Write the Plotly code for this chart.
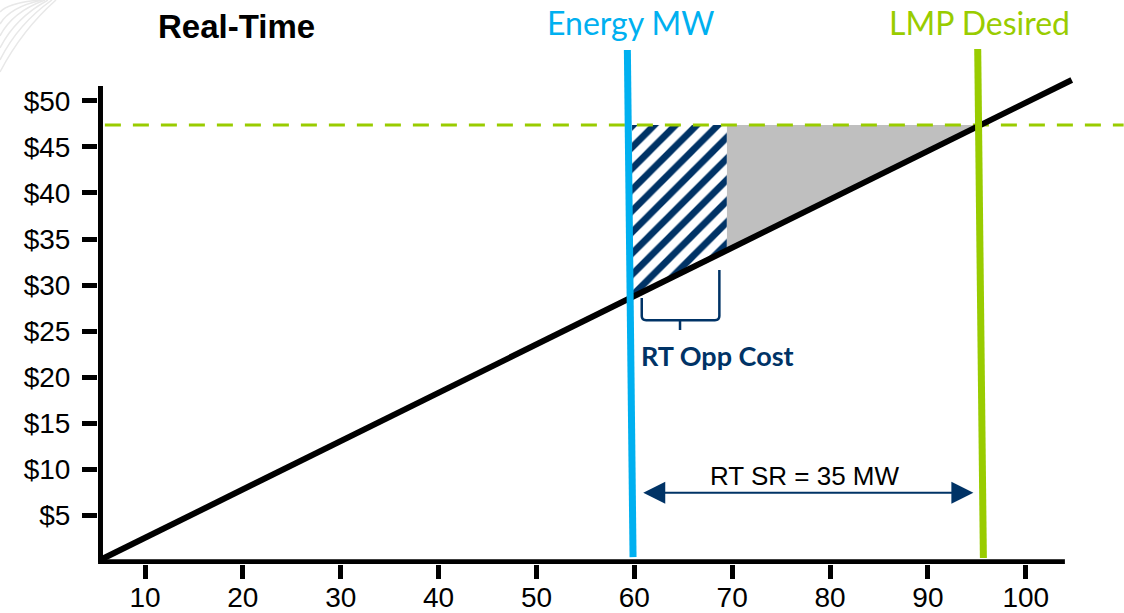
import plotly.graph_objects as go

# ---- data -------------------------------------------------------------
supply_mw = [5.4, 104.7]          # offer curve (MW)
supply_price = [0.18, 52.25]      # offer curve ($/MWh)

lmp_desired = 47.36               # desired LMP level ($)
lmp_dash_x = [5.9, 110.0]

energy_line_mw = [59.29, 59.87]   # Energy MW marker line
energy_line_price = [55.5, 0.5]
lmp_line_mw = [95.09, 95.67]      # LMP Desired marker line
lmp_line_price = [55.6, 0.4]

opp_hatch_mw = [59.77, 69.45, 69.45, 59.77]      # RT opportunity cost area
opp_hatch_price = [28.69, 33.77, 47.36, 47.36]
margin_mw = [69.45, 95.37, 69.45]                # remaining margin area
margin_price = [33.77, 47.36, 47.36]

sr_from_mw, sr_to_mw, sr_level = 60.76, 94.65, 7.48   # RT SR = 35 MW span
brace_x0, brace_x1, brace_mid = 60.76, 68.69, 64.67
brace_left_top, brace_right_top, brace_base, brace_tip = 28.6, 31.65, 26.2, 25.14

x_ticks = [10, 20, 30, 40, 50, 60, 70, 80, 90, 100]
y_ticks = [5, 10, 15, 20, 25, 30, 35, 40, 45, 50]
y_tick_text = ["$" + str(v) for v in y_ticks]

# ---- colours ----------------------------------------------------------
NAVY = "#003366"
BLUE = "#00B0F0"
GREEN = "#99CC00"
GREY = "#BFBFBF"

W, H = 1124, 613
ML, MR, MT, MB = 98, 0, 45, 49
PW, PH = W - ML - MR, H - MT - MB


def px(xp):
    return (xp - ML) / PW


def py(yp):
    return (H - MB - yp) / PH


fig = go.Figure()

fig.add_trace(go.Scatter(
    x=margin_mw, y=margin_price, fill="toself", mode="none",
    fillcolor=GREY, hoverinfo="skip"))
fig.add_trace(go.Scatter(
    x=opp_hatch_mw, y=opp_hatch_price, fill="toself", mode="none",
    fillcolor="white",
    fillpattern=dict(shape="/", fgcolor=NAVY, bgcolor="white", fgopacity=1,
                     size=15, solidity=0.45),
    hoverinfo="skip"))
fig.add_trace(go.Scatter(
    x=lmp_dash_x, y=[lmp_desired, lmp_desired], mode="lines",
    line=dict(color=GREEN, width=3, dash="16px,12px"), hoverinfo="skip"))
fig.add_trace(go.Scatter(
    x=supply_mw, y=supply_price, mode="lines",
    line=dict(color="black", width=6), hoverinfo="skip"))
fig.add_trace(go.Scatter(
    x=energy_line_mw, y=energy_line_price, mode="lines",
    line=dict(color=BLUE, width=7), hoverinfo="skip"))
fig.add_trace(go.Scatter(
    x=lmp_line_mw, y=lmp_line_price, mode="lines",
    line=dict(color=GREEN, width=7), hoverinfo="skip"))

x_lo = 5.4 - 2.0 / 9.786
x_hi = x_lo + PW / 9.786
y_lo = -2.3 / 9.22
y_hi = y_lo + PH / 9.22

shapes = [
    # axis lines stop at the last tick region
    dict(type="line", xref="x", yref="y", x0=5.45, x1=5.45, y0=0, y1=51.6,
         line=dict(color="black", width=5)),
    dict(type="line", xref="x", yref="y", x0=5.2, x1=104.0, y0=0, y1=0,
         line=dict(color="black", width=5)),
    # brace under the opportunity-cost area
    dict(type="path", xref="x", yref="y",
         path=(f"M {brace_x0},{brace_left_top} L {brace_x0},{brace_base + 0.45} "
               f"Q {brace_x0},{brace_base} {brace_x0 + 0.45},{brace_base} "
               f"L {brace_x1 - 0.45},{brace_base} "
               f"Q {brace_x1},{brace_base} {brace_x1},{brace_base + 0.45} "
               f"L {brace_x1},{brace_right_top} "
               f"M {brace_mid},{brace_base} L {brace_mid},{brace_tip}"),
         line=dict(color=NAVY, width=2.5)),
]

# faint swoosh in the top-left corner
for (y0p, x1p, cx, cy) in [(72, 56, 22, 30), (60, 52, 18, 24), (48, 48, 15, 18),
                           (36, 45, 12, 12), (24, 42, 10, 7), (12, 40, 8, 3)]:
    x0, y0 = px(0), py(y0p)
    x1, y1 = px(x1p), py(0)
    shapes.append(dict(type="path", xref="paper", yref="paper",
                       path=f"M {x0},{y0} Q {px(cx)},{py(cy)} {x1},{y1}",
                       line=dict(color="#e8e8e8", width=1.5), layer="below"))

annotations = [
    dict(text="<b>Real-Time</b>", xref="paper", yref="paper",
         x=px(236), y=py(26), showarrow=False, xanchor="center", yanchor="middle",
         font=dict(family="Liberation Sans, Arial", size=33, color="black")),
    dict(text="Energy MW", xref="paper", yref="paper",
         x=px(630), y=py(22), showarrow=False, xanchor="center", yanchor="middle",
         font=dict(family="Lato", size=32, color=BLUE)),
    dict(text="LMP Desired", xref="paper", yref="paper",
         x=px(979), y=py(22), showarrow=False, xanchor="center", yanchor="middle",
         font=dict(family="Lato", size=32, color=GREEN)),
    dict(text="<b>RT Opp Cost</b>", xref="x", yref="y",
         x=68.45, y=22.4, showarrow=False, xanchor="center", yanchor="middle",
         font=dict(family="Lato", size=27, color=NAVY)),
    dict(text="RT SR = 35 MW", xref="x", yref="y",
         x=77.35, y=9.3, showarrow=False, xanchor="center", yanchor="middle",
         font=dict(family="Liberation Sans, Arial", size=26, color="black")),
    dict(text="", xref="x", yref="y", axref="x", ayref="y",
         x=sr_to_mw, y=sr_level, ax=sr_from_mw, ay=sr_level,
         showarrow=True, arrowside="end+start", arrowhead=2, arrowsize=2.2,
         arrowwidth=2, arrowcolor=NAVY, standoff=0, startstandoff=0),
]

tick_font = dict(family="Liberation Sans, Arial", size=28, color="black")

fig.update_layout(
    width=W, height=H,
    margin=dict(l=ML, r=MR, t=MT, b=MB, pad=0, autoexpand=False),
    paper_bgcolor="white", plot_bgcolor="white",
    showlegend=False,
    shapes=shapes, annotations=annotations,
    xaxis=dict(range=[x_lo, x_hi], tickmode="array", tickvals=x_ticks,
               ticks="outside", ticklen=14, tickwidth=5, tickcolor="black",
               showline=False, showgrid=False, zeroline=False,
               tickfont=tick_font, ticklabelstandoff=-6, automargin=False),
    yaxis=dict(range=[y_lo, y_hi], tickmode="array", tickvals=y_ticks,
               ticktext=y_tick_text, ticks="outside", ticklen=15, tickwidth=5,
               tickcolor="black", showline=False, showgrid=False,
               zeroline=False, tickfont=tick_font, ticklabelstandoff=6,
               automargin=False),
)

fig.write_html("out.html")
